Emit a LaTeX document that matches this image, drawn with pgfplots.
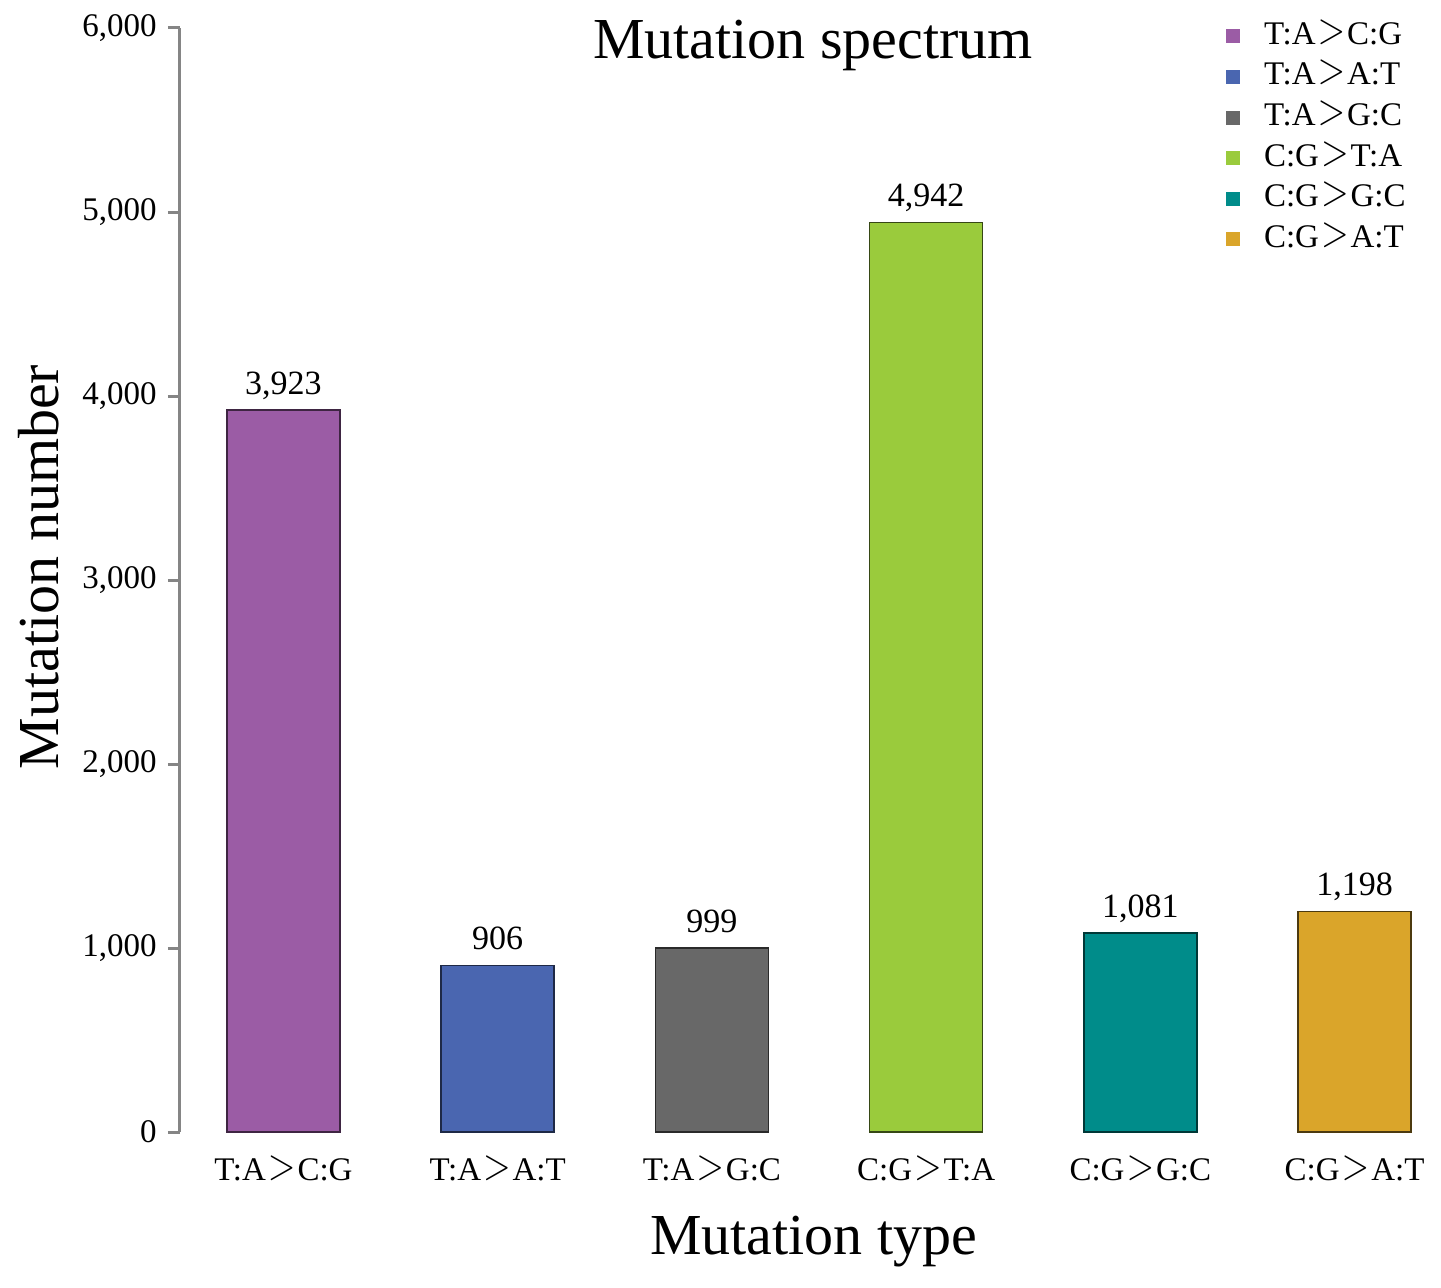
\documentclass[border=0pt]{standalone}
\usepackage{pgfplots}
\pgfplotsset{compat=1.18}
\usepackage{fontspec}
\setmainfont{Liberation Serif}
\definecolor{cPur}{HTML}{9B5CA5}
\definecolor{cBlu}{HTML}{4A66B0}
\definecolor{cGry}{HTML}{686868}
\definecolor{cGrn}{HTML}{9ACB3C}
\definecolor{cTea}{HTML}{008C8A}
\definecolor{cOra}{HTML}{DAA52A}
\definecolor{axgray}{HTML}{858585}
\newcommand{\gt}{\kern0.06em\raisebox{0.03em}{\scalebox{1.05}[1.3]{$>$}}\kern0.06em}
\begin{document}
\begin{tikzpicture}
\begin{axis}[
  scale only axis,
  width=625pt, height=552pt,
  xmin=-0.483, xmax=5.352, ymin=0, ymax=6000,
  enlargelimits=false,
  clip=false,
  ybar,
  axis y line*=left, axis x line*=bottom,
  axis line style={-, draw=axgray, line width=1.5pt},
  x axis line style={draw=none},
  ytick={0,1000,...,6000},
  xtick={0,1,2,3,4,5},
  xticklabels={T:A\gt C:G,T:A\gt A:T,T:A\gt G:C,C:G\gt T:A,C:G\gt G:C,C:G\gt A:T},
  x tick style={draw=none},
  y tick style={draw=axgray, line width=1.5pt},
  tick align=outside,
  major tick length=6pt,
  /pgf/number format/.cd, 1000 sep={,}, assume math mode=true,
  /pgfplots/.cd,
  yticklabel style={font=\fontsize{16.5}{18}\selectfont, anchor=east, inner sep=0pt, xshift=-5.5pt},
  xticklabel style={font=\fontsize{16.5}{18}\selectfont, anchor=north, inner sep=0pt, yshift=-5.5pt},
  title={Mutation spectrum},
  title style={font=\fontsize{29}{32}\selectfont, at={(axis description cs:0.5064,1.0072)}, anchor=north, inner sep=0pt, yshift=-6pt},
  xlabel={Mutation type},
  xlabel style={font=\fontsize{29}{32}\selectfont, at={(axis description cs:0.507,-0.0761)}, anchor=north, inner sep=0pt},
  ylabel={Mutation number},
  ylabel style={font=\fontsize{29}{32}\selectfont, at={(axis description cs:-0.1296,0.5118)}, anchor=north, inner sep=0pt},
  bar width=56.5pt,
  nodes near coords,
  every node near coord/.append style={font=\fontsize{17}{19}\selectfont, anchor=base, inner sep=0pt, yshift=8pt, color=black},
  every axis plot/.append style={bar shift=0pt, line width=0.8pt},
  legend image code/.code={\fill[#1, draw=none] (0pt,-3.5pt) rectangle (7pt,3.5pt);},
  legend cell align=left,
  legend style={at={(axis description cs:0.8365,1.0055)}, anchor=north west, draw=none, fill=none,
    font=\fontsize{16.5}{18}\selectfont, inner sep=0pt, row sep=6.3pt, column sep=12pt,
    nodes={inner sep=0pt, text height=11pt, text depth=3pt}},
]
\addplot[fill=cPur, draw=cPur!40!black] coordinates {(0,3923)};
\addplot[fill=cBlu, draw=cBlu!40!black] coordinates {(1,906)};
\addplot[fill=cGry, draw=cGry!40!black] coordinates {(2,999)};
\addplot[fill=cGrn, draw=cGrn!35!black] coordinates {(3,4942)};
\addplot[fill=cTea, draw=cTea!40!black] coordinates {(4,1081)};
\addplot[fill=cOra, draw=cOra!35!black] coordinates {(5,1198)};
\legend{T:A\gt C:G,T:A\gt A:T,T:A\gt G:C,C:G\gt T:A,C:G\gt G:C,C:G\gt A:T}
\end{axis}
\pgfresetboundingbox
\path[use as bounding box] (-90pt,-77.5pt) rectangle (630.5pt,566pt);
\end{tikzpicture}
\end{document}
